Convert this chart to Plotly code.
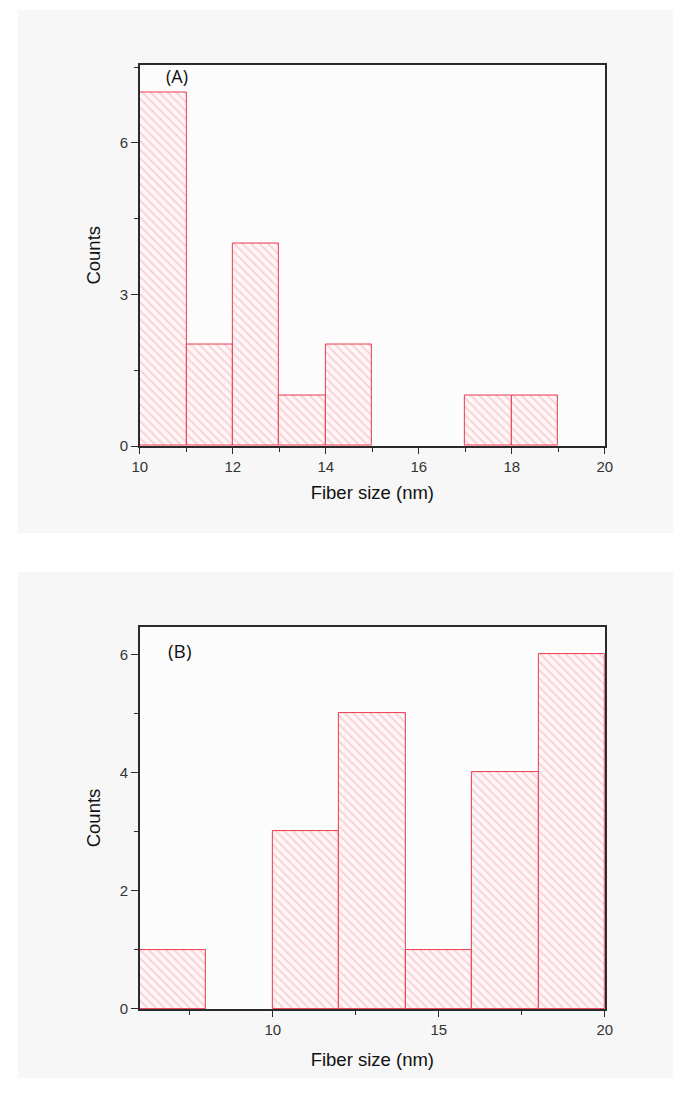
import plotly.graph_objects as go

# Panel (A): bin edges (nm) and counts per bin
edges_a = [10, 11, 12, 13, 14, 15, 16, 17, 18, 19]
counts_a = [7, 2, 4, 1, 2, 0, 0, 1, 1]

# Panel (B): bin edges (nm) and counts per bin
edges_b = [6, 8, 10, 12, 14, 16, 18, 20]
counts_b = [1, 0, 3, 5, 1, 4, 6]

W, H = 691, 1096


def fx(p):
    return p / W


def fy(p):
    return 1 - p / H


def hist_bar(edges, counts, xa, ya):
    centers = [(edges[i] + edges[i + 1]) / 2 for i in range(len(counts))]
    widths = [edges[i + 1] - edges[i] for i in range(len(counts))]
    # empty bins get no outline so nothing is drawn along the baseline
    outline = [1 if c > 0 else 0 for c in counts]
    return go.Bar(
        x=centers, y=counts, width=widths,
        xaxis=xa, yaxis=ya,
        marker=dict(
            color="#fff4f5",
            line=dict(color="#ec3a4e", width=outline),
            pattern=dict(shape="\\", fgcolor="#f0a6b0", bgcolor="#fff6f7",
                         size=6, solidity=0.28),
        ),
        showlegend=False, hoverinfo="x+y",
    )


fig = go.Figure()
fig.add_trace(hist_bar(edges_a, counts_a, "x", "y"))
fig.add_trace(hist_bar(edges_b, counts_b, "x2", "y2"))

tick_font = dict(family="Liberation Sans, Arial, sans-serif", size=15, color="#333333")
title_font = dict(family="Liberation Sans, Arial, sans-serif", size=18.5, color="#111111")

axis_common = dict(
    showline=True, linecolor="#2a2a2a", linewidth=1.6, mirror=True,
    showgrid=False, zeroline=False,
    ticks="outside", tickwidth=1.3, tickcolor="#2a2a2a",
    tickfont=tick_font, title_font=title_font,
)


def minor(step):
    return dict(ticks="outside", ticklen=4, tickwidth=1.2,
                tickcolor="#2a2a2a", dtick=step)


dom_x = [fx(135), fx(611)]
dom_ya = [fy(449.3), fy(65)]
dom_yb = [fy(1016.3), fy(631.7)]

fig.update_layout(
    width=W, height=H,
    margin=dict(l=0, r=0, t=0, b=0),
    paper_bgcolor="#ffffff",
    plot_bgcolor="rgba(0,0,0,0)",
    bargap=0,
    xaxis=dict(axis_common, domain=dom_x, range=[10, 20], anchor="y",
               dtick=2, tick0=10, ticklen=6, minor=minor(1),
               title=dict(text="Fiber size (nm)", standoff=12)),
    yaxis=dict(axis_common, domain=dom_ya, range=[0, 7.55], anchor="x",
               dtick=3, tick0=0, ticklen=7, minor=minor(1.5),
               title=dict(text="Counts", standoff=14)),
    xaxis2=dict(axis_common, domain=dom_x, range=[6, 20], anchor="y2",
                dtick=5, tick0=0, ticklen=6, minor=minor(2.5),
                title=dict(text="Fiber size (nm)", standoff=16)),
    yaxis2=dict(axis_common, domain=dom_yb, range=[0, 6.46], anchor="x2",
                dtick=2, tick0=0, ticklen=7, minor=minor(1),
                title=dict(text="Counts", standoff=14)),
    shapes=[
        # light gray panel backgrounds
        dict(type="rect", xref="paper", yref="paper",
             x0=fx(10), x1=fx(681), y0=fy(537), y1=fy(10),
             fillcolor="#f7f7f7", line=dict(width=0), layer="below"),
        dict(type="rect", xref="paper", yref="paper",
             x0=fx(10), x1=fx(681), y0=fy(1086), y1=fy(576),
             fillcolor="#f7f7f7", line=dict(width=0), layer="below"),
        # plotting areas
        dict(type="rect", xref="paper", yref="paper",
             x0=dom_x[0], x1=dom_x[1], y0=dom_ya[0], y1=dom_ya[1],
             fillcolor="#fcfcfc", line=dict(width=0), layer="below"),
        dict(type="rect", xref="paper", yref="paper",
             x0=dom_x[0], x1=dom_x[1], y0=dom_yb[0], y1=dom_yb[1],
             fillcolor="#fcfcfc", line=dict(width=0), layer="below"),
    ],
    annotations=[
        dict(text="(A)", xref="x", yref="y", x=10.8, y=7.33,
             showarrow=False, xanchor="center", yanchor="middle",
             font=dict(family="Open Sans, sans-serif", size=18, color="#111111")),
        dict(text="(B)", xref="x2", yref="y2", x=7.2, y=6.05,
             showarrow=False, xanchor="center", yanchor="middle",
             font=dict(family="Open Sans, sans-serif", size=19, color="#111111")),
    ],
)

fig.write_html("out.html")
